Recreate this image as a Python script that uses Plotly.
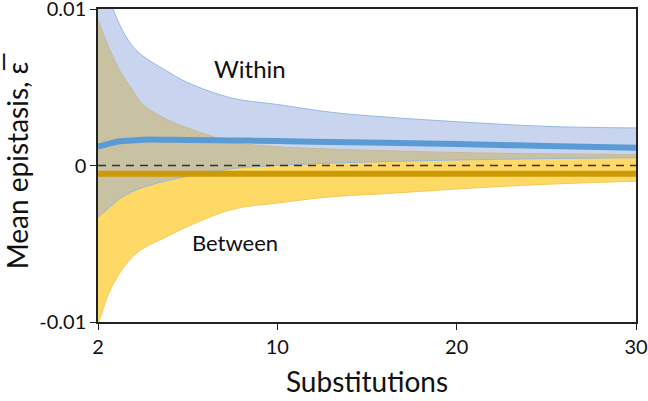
import numpy as np
import plotly.graph_objects as go

# ---- data ----
substitutions = [2, 2.5, 3, 3.5, 4, 5, 6, 8, 10, 13, 16, 20, 25, 30]
within_upper = [0.0135, 0.0107, 0.0089, 0.0077, 0.0070, 0.0061, 0.0053, 0.0043, 0.0039, 0.0034, 0.0031, 0.0028, 0.0025, 0.0024]
within_mean = [0.0012, 0.0014, 0.00155, 0.0016, 0.00165, 0.00165, 0.00163, 0.0016, 0.00157, 0.0015, 0.00145, 0.00137, 0.00125, 0.00113]
within_lower = [-0.0033, -0.0027, -0.0021, -0.0017, -0.0014, -0.0010, -0.0007, -0.0002, 0.0, 0.00015, 0.00025, 0.00035, 0.00044, 0.0005]
between_upper = [0.0093, 0.0075, 0.0060, 0.0049, 0.0039, 0.0030, 0.0024, 0.0015, 0.0012, 0.00105, 0.00095, 0.00083, 0.00075, 0.0007]
between_mean = [-0.00052] * 14
between_lower = [-0.0102, -0.0081, -0.0068, -0.0059, -0.0053, -0.0046, -0.0039, -0.0028, -0.0024, -0.0020, -0.0018, -0.0015, -0.0012, -0.0010]

x_ticks = [2, 10, 20, 30]
y_ticks = [-0.01, 0, 0.01]
y_tick_text = ["-0.01", "0", "0.01"]

# axis scale: tick labels are evenly spaced on the axis
tick_pos = list(range(len(x_ticks)))
def xpos(v):
    return np.interp(v, x_ticks, tick_pos)

xp = xpos(substitutions)

FONT = "Lato"
BLUE_FILL = "rgba(147,171,221,0.5)"
BLUE_EDGE = "rgba(150,185,225,1)"
YEL_FILL = "#ffd966"
YEL_EDGE = "#f5c95a"
BLUE_LINE = "#5b9bd5"
GOLD_LINE = "#cc9a06"

fig = go.Figure()

# Between band (yellow)
fig.add_trace(go.Scatter(x=xp, y=between_lower, mode="lines", line=dict(color=YEL_EDGE, width=1, shape="spline"),
                         hoverinfo="skip", showlegend=False))
fig.add_trace(go.Scatter(x=xp, y=between_upper, mode="lines", line=dict(color=YEL_EDGE, width=1, shape="spline"),
                         fill="tonexty", fillcolor=YEL_FILL, hoverinfo="skip", showlegend=False))
# Within band (blue, translucent)
fig.add_trace(go.Scatter(x=xp, y=within_lower, mode="lines", line=dict(color=BLUE_EDGE, width=1, shape="spline"),
                         hoverinfo="skip", showlegend=False))
fig.add_trace(go.Scatter(x=xp, y=within_upper, mode="lines", line=dict(color=BLUE_EDGE, width=1, shape="spline"),
                         fill="tonexty", fillcolor=BLUE_FILL, hoverinfo="skip", showlegend=False))

# zero dashed line
fig.add_trace(go.Scatter(x=[xpos(x_ticks[0]), xpos(x_ticks[-1])], y=[0, 0], mode="lines",
                         line=dict(color="#333333", width=1.5, dash="8px,6px"), hoverinfo="skip", showlegend=False))

# means
fig.add_trace(go.Scatter(x=xp, y=between_mean, mode="lines", line=dict(color=GOLD_LINE, width=6, shape="spline"),
                         hoverinfo="skip", showlegend=False))
fig.add_trace(go.Scatter(x=xp, y=within_mean, mode="lines", line=dict(color=BLUE_LINE, width=6, shape="spline"),
                         hoverinfo="skip", showlegend=False))

fig.add_annotation(x=float(xpos(8.8)), y=0.0062, text="Within", showarrow=False,
                   font=dict(family=FONT, size=24, color="#111111"))
fig.add_annotation(x=float(xpos(8.1)), y=-0.0049, text="Between", showarrow=False,
                   font=dict(family=FONT, size=22, color="#111111"))

fig.update_layout(
    width=648, height=401,
    margin=dict(l=98, r=12, t=9, b=79),
    paper_bgcolor="white", plot_bgcolor="white",
    font=dict(family=FONT, color="#111111"),
    showlegend=False,
)
fig.update_xaxes(
    range=[tick_pos[0], tick_pos[-1]], automargin=False, ticklabeloverflow="allow",
    tickvals=[float(xpos(t)) for t in x_ticks], ticktext=[str(t) for t in x_ticks],
    ticks="outside", ticklen=6, tickwidth=1.2, tickcolor="#222222",
    showline=True, linecolor="#222222", linewidth=1.5, mirror=True,
    showgrid=False, zeroline=False,
    tickfont=dict(size=20, family=FONT),
    title=dict(text="Substitutions", font=dict(size=28, family=FONT), standoff=16),
)
fig.update_yaxes(
    range=[-0.01, 0.01], automargin=False, ticklabeloverflow="allow",
    tickvals=y_ticks, ticktext=y_tick_text,
    ticks="outside", ticklen=6, tickwidth=1.2, tickcolor="#222222",
    showline=True, linecolor="#222222", linewidth=1.5, mirror=True,
    showgrid=False, zeroline=False,
    tickfont=dict(size=20, family=FONT),
    title=dict(text="Mean epistasis, \u03b5\u0305", font=dict(size=28, family=FONT), standoff=6),
)

fig.write_html("out.html", config={"displayModeBar": False},
               post_script="document.body.style.margin='0';")
